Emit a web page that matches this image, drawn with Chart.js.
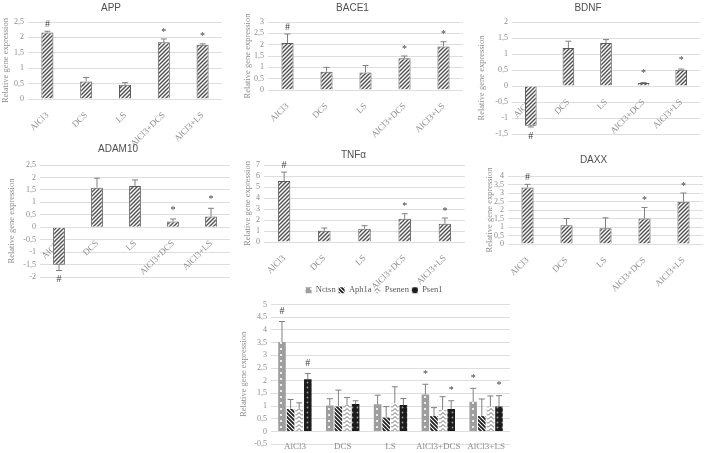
<!DOCTYPE html>
<html>
<head>
<meta charset="utf-8">
<script src="https://cdn.jsdelivr.net/npm/chart.js@4.4.1/dist/chart.umd.min.js"></script>
<style>
  html, body { margin: 0; padding: 0; background: #fff; }
  body { width: 708px; height: 453px; position: relative; overflow: hidden; }
  canvas { position: absolute; }
</style>
</head>
<body>
<canvas id="app" width="232" height="150" style="left:0;top:0"></canvas>
<canvas id="bace1" width="235" height="150" style="left:235px;top:0"></canvas>
<canvas id="bdnf" width="238" height="150" style="left:470px;top:0"></canvas>
<canvas id="adam10" width="235" height="160" style="left:0;top:140px"></canvas>
<canvas id="tnfa" width="235" height="150" style="left:235px;top:145px"></canvas>
<canvas id="daxx" width="238" height="155" style="left:470px;top:145px"></canvas>
<canvas id="secretase" width="285" height="173" style="left:230px;top:280px"></canvas>
<script>
const groups = ["AlCl3", "DCS", "LS", "AlCl3+DCS", "AlCl3+LS"];
const yTitle = "Relative gene expression";

const appTicks = [0, 0.5, 1, 1.5, 2, 2.5];
const appValues = [2.16, 0.57, 0.46, 1.84, 1.76];
const appErrors = [0.04, 0.13, 0.07, 0.11, 0.03];
const appMarks = ["#", "", "", "*", "*"];

const bace1Ticks = [0, 0.5, 1, 1.5, 2, 2.5, 3];
const bace1Values = [2.07, 0.81, 0.77, 1.4, 1.92];
const bace1Errors = [0.4, 0.19, 0.31, 0.1, 0.21];
const bace1Marks = ["#", "", "", "*", "*"];

const bdnfTicks = [-1.5, -1, -0.5, 0, 0.5, 1, 1.5, 2];
const bdnfValues = [-1.24, 1.19, 1.34, 0.09, 0.51];
const bdnfErrors = [0.04, 0.21, 0.11, 0.02, 0.02];
const bdnfMarks = ["#", "", "", "*", "*"];

const adam10Ticks = [-2, -1.5, -1, -0.5, 0, 0.5, 1, 1.5, 2, 2.5];
const adam10Values = [-1.51, 1.59, 1.66, 0.23, 0.43];
const adam10Errors = [0.23, 0.38, 0.24, 0.1, 0.33];
const adam10Marks = ["#", "", "", "*", "*"];

const tnfaTicks = [0, 1, 2, 3, 4, 5, 6, 7];
const tnfaValues = [5.55, 1.03, 1.21, 2.11, 1.66];
const tnfaErrors = [0.8, 0.24, 0.27, 0.46, 0.52];
const tnfaMarks = ["#", "", "", "*", "*"];

const daxxTicks = [0, 0.5, 1, 1.5, 2, 2.5, 3, 3.5, 4];
const daxxValues = [3.32, 1.11, 0.92, 1.5, 2.48];
const daxxErrors = [0.19, 0.39, 0.62, 0.65, 0.52];
const daxxMarks = ["#", "", "", "*", "*"];

const secretaseTicks = [-0.5, 0, 0.5, 1, 1.5, 2, 2.5, 3, 3.5, 4, 4.5, 5];
const nctsnValues = [3.52, 1.02, 1.07, 1.46, 1.17];
const nctsnErrors = [0.81, 0.27, 0.36, 0.4, 0.53];
const nctsnMarks = ["#", "", "", "*", "*"];
const aph1aValues = [0.89, 0.98, 0.55, 0.61, 0.61];
const aph1aErrors = [0.37, 0.65, 0.43, 0.33, 0.67];
const aph1aMarks = ["", "", "", "", ""];
const psenenValues = [0.89, 1.04, 1.11, 0.85, 0.98];
const psenenErrors = [0.24, 0.3, 0.65, 0.52, 0.42];
const psenenMarks = ["", "", "", "", ""];
const psen1Values = [2.06, 1.08, 1.04, 0.89, 0.98];
const psen1Errors = [0.22, 0.13, 0.26, 0.32, 0.43];
const psen1Marks = ["#", "", "", "*", "*"];

function fmt(v) {
  return String(Math.round(v * 10) / 10).replace(".", ",");
}

function tile(w, h, paint) {
  const c = document.createElement("canvas");
  c.width = w;
  c.height = h;
  const g = c.getContext("2d");
  paint(g);
  return g.createPattern(c, "repeat");
}

const hatch = tile(4, 4, (g) => {
  g.fillStyle = "#fff";
  g.fillRect(0, 0, 4, 4);
  g.strokeStyle = "#4f4f4f";
  g.lineWidth = 1.4;
  g.beginPath();
  g.moveTo(-1, 5); g.lineTo(5, -1);
  g.moveTo(-1, 1); g.lineTo(1, -1);
  g.moveTo(3, 5); g.lineTo(5, 3);
  g.stroke();
});

const dotsLight = tile(6, 6, (g) => {
  g.fillStyle = "#9e9e9e";
  g.fillRect(0, 0, 6, 6);
  g.fillStyle = "#fff";
  g.beginPath();
  g.arc(3, 3, 1.1, 0, Math.PI * 2);
  g.fill();
});

const stripes = tile(4, 4, (g) => {
  g.fillStyle = "#fff";
  g.fillRect(0, 0, 4, 4);
  g.strokeStyle = "#1e1e1e";
  g.lineWidth = 1.8;
  g.beginPath();
  g.moveTo(-1, -1); g.lineTo(5, 5);
  g.moveTo(3, -1); g.lineTo(5, 1);
  g.moveTo(-1, 3); g.lineTo(1, 5);
  g.stroke();
});

const zigzag = tile(6, 4, (g) => {
  g.fillStyle = "#fff";
  g.fillRect(0, 0, 6, 4);
  g.strokeStyle = "#666";
  g.lineWidth = 1;
  g.beginPath();
  g.moveTo(0, 3.5); g.lineTo(3, 0.5); g.lineTo(6, 3.5);
  g.stroke();
});

const dotsDark = tile(5, 5, (g) => {
  g.fillStyle = "#1c1c1c";
  g.fillRect(0, 0, 5, 5);
  g.fillStyle = "#9a9a9a";
  g.beginPath();
  g.arc(2.5, 2.5, 0.9, 0, Math.PI * 2);
  g.fill();
});

// error bars (plus direction, away from zero) and significance marks
const errorBars = {
  id: "errorBars",
  afterDatasetsDraw(chart, args, opts) {
    const ctx = chart.ctx;
    const y = chart.scales.y;
    chart.data.datasets.forEach((ds, di) => {
      const meta = chart.getDatasetMeta(di);
      meta.data.forEach((bar, i) => {
        const v = ds.data[i];
        const end = v + (v < 0 ? -ds.errors[i] : ds.errors[i]);
        const y0 = y.getPixelForValue(v);
        const y1 = y.getPixelForValue(end);
        ctx.save();
        ctx.strokeStyle = opts.color;
        ctx.lineWidth = 1;
        ctx.beginPath();
        ctx.moveTo(bar.x, y0);
        ctx.lineTo(bar.x, y1);
        ctx.moveTo(bar.x - opts.cap, y1);
        ctx.lineTo(bar.x + opts.cap, y1);
        ctx.stroke();
        const m = ds.marks[i];
        if (m) {
          ctx.fillStyle = "#404040";
          ctx.font = "10px 'Liberation Serif'";
          ctx.textAlign = "center";
          ctx.textBaseline = "middle";
          ctx.fillText(m, bar.x, y1 + (v < 0 ? opts.gap : -opts.gap));
        }
        ctx.restore();
      });
    });
  },
};

function drawPanel(id, cfg) {
  const ticks = cfg.ticks;
  const horizontal = cfg.rotation === 0;
  return new Chart(document.getElementById(id), {
    type: "bar",
    data: {
      labels: groups,
      datasets: cfg.series.map((s) => ({
        label: s.name,
        data: s.values,
        errors: s.errors,
        marks: s.marks,
        backgroundColor: s.fill,
        borderColor: s.border || "#5a5a5a",
        borderWidth: s.borderWidth === undefined ? 1 : s.borderWidth,
        barPercentage: cfg.barPct,
        categoryPercentage: cfg.catPct,
      })),
    },
    options: {
      responsive: false,
      animation: false,
      layout: { padding: cfg.pad },
      plugins: {
        legend: cfg.legend || { display: false },
        tooltip: { enabled: false },
        title: {
          display: !!cfg.title,
          text: cfg.title,
          color: "#505050",
          font: { family: "'Liberation Sans'", size: 10, weight: "normal" },
          padding: cfg.titlePad,
        },
        errorBars: { color: "#808080", cap: 3, gap: cfg.markGap },
      },
      scales: {
        x: {
          position: { y: 0 },
          z: 1,
          grid: { display: false },
          border: { display: false },
          ticks: {
            autoSkip: false,
            color: "#8c8c8c",
            font: { family: "'Liberation Serif'", size: 9 },
            minRotation: cfg.rotation,
            maxRotation: cfg.rotation,
            padding: horizontal ? 2 : 3,
          },
        },
        y: {
          min: ticks[0],
          max: ticks[ticks.length - 1],
          ticks: {
            autoSkip: false,
            stepSize: ticks[1] - ticks[0],
            color: "#8c8c8c",
            font: { family: "'Liberation Serif'", size: 8 },
            padding: 4,
            callback: (v) => fmt(v),
          },
          grid: { color: "#dedede", drawTicks: false },
          border: { display: false },
          title: {
            display: true,
            text: yTitle,
            color: "#8c8c8c",
            font: { family: "'Liberation Serif'", size: 8.5 },
            padding: { top: 1, bottom: 0 },
          },
          afterFit: (s) => {
            s.width = cfg.yWidth;
          },
        },
      },
    },
    plugins: [errorBars],
  });
}

function single(name, values, errors, marks) {
  return [{ name: name, values: values, errors: errors, marks: marks, fill: hatch }];
}

drawPanel("app", {
  title: "APP", ticks: appTicks, series: single("APP", appValues, appErrors, appMarks),
  pad: { left: 0, right: 10, top: 0, bottom: 51 }, titlePad: { top: 2, bottom: 8 },
  yWidth: 28, rotation: 45, barPct: 0.31, catPct: 1, markGap: 7,
});
drawPanel("bace1", {
  title: "BACE1", ticks: bace1Ticks, series: single("BACE1", bace1Values, bace1Errors, bace1Marks),
  pad: { left: 7, right: 7, top: 0, bottom: 60 }, titlePad: { top: 2, bottom: 8 },
  yWidth: 26, rotation: 45, barPct: 0.31, catPct: 1, markGap: 7,
});
drawPanel("bdnf", {
  title: "BDNF", ticks: bdnfTicks, series: single("BDNF", bdnfValues, bdnfErrors, bdnfMarks),
  pad: { left: 6, right: 8, top: 0, bottom: 16 }, titlePad: { top: 2, bottom: 8 },
  yWidth: 36, rotation: 45, barPct: 0.31, catPct: 1, markGap: 9,
});
drawPanel("adam10", {
  title: "ADAM10", ticks: adam10Ticks, series: single("ADAM10", adam10Values, adam10Errors, adam10Marks),
  pad: { left: 6, right: 5, top: 0, bottom: 23 }, titlePad: { top: 3, bottom: 10 },
  yWidth: 34, rotation: 45, barPct: 0.31, catPct: 1, markGap: 9,
});
drawPanel("tnfa", {
  title: "TNFα", ticks: tnfaTicks, series: single("TNFα", tnfaValues, tnfaErrors, tnfaMarks),
  pad: { left: 7, right: 5, top: 0, bottom: 53 }, titlePad: { top: 4, bottom: 4 },
  yWidth: 22, rotation: 45, barPct: 0.31, catPct: 1, markGap: 7,
});
drawPanel("daxx", {
  title: "DAXX", ticks: daxxTicks, series: single("DAXX", daxxValues, daxxErrors, daxxMarks),
  pad: { left: 14, right: 5, top: 0, bottom: 56 }, titlePad: { top: 9, bottom: 10 },
  yWidth: 24, rotation: 45, barPct: 0.31, catPct: 1, markGap: 7,
});
drawPanel("secretase", {
  title: "", ticks: secretaseTicks,
  series: [
    { name: "Nctsn", values: nctsnValues, errors: nctsnErrors, marks: nctsnMarks, fill: dotsLight, borderWidth: 0 },
    { name: "Aph1a", values: aph1aValues, errors: aph1aErrors, marks: aph1aMarks, fill: stripes, borderWidth: 0 },
    { name: "Psenen", values: psenenValues, errors: psenenErrors, marks: psenenMarks, fill: zigzag, borderWidth: 0 },
    { name: "Psen1", values: psen1Values, errors: psen1Errors, marks: psen1Marks, fill: dotsDark, borderWidth: 0 },
  ],
  legend: {
    display: true,
    position: "top",
    labels: {
      boxWidth: 6, boxHeight: 6, padding: 3, color: "#595959",
      font: { family: "'Liberation Serif'", size: 8.5 },
    },
  },
  pad: { left: 8, right: 5, top: 3, bottom: 7 }, titlePad: 0,
  yWidth: 33, rotation: 0, barPct: 0.88, catPct: 0.72, markGap: 10,
});
</script>
</body>
</html>
